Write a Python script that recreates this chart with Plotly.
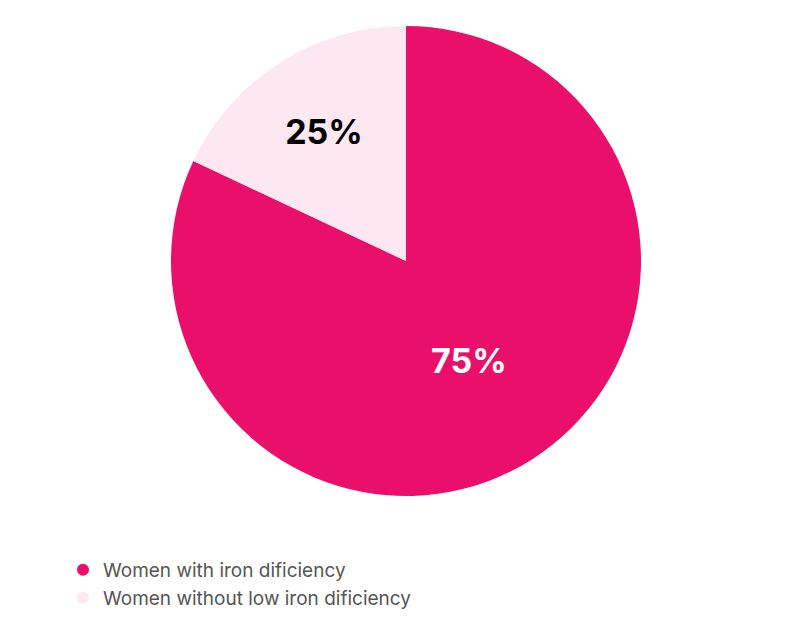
import plotly.graph_objects as go

labels = ["Women with iron dificiency", "Women without low iron dificiency"]
# slice shares as drawn in the picture; printed labels differ
shares = [82, 18]
label_text = ["75%", "25%"]
colors = ["#EA0F6B", "#FDE7F0"]
text_colors = ["white", "black"]

fig = go.Figure()

fig.add_trace(
    go.Pie(
        labels=labels,
        values=shares,
        text=label_text,
        textinfo="text",
        sort=False,
        direction="clockwise",
        marker=dict(colors=colors, line=dict(width=0)),
        textfont=dict(size=34, color=text_colors, family="Inter", weight="bold"),
        insidetextorientation="horizontal",
        showlegend=False,
        hoverinfo="label+text",
        domain=dict(x=[163 / 800, 633 / 800], y=[1 - 488 / 629, 1 - 18 / 629]),
    )
)

# legend entries with round markers
for name, color in zip(labels, colors):
    fig.add_trace(
        go.Scatter(
            x=[None], y=[None], mode="markers", name=name,
            marker=dict(symbol="circle", size=17, color=color),
        )
    )

fig.update_layout(
    width=800,
    height=629,
    margin=dict(l=0, r=0, t=0, b=0),
    paper_bgcolor="white",
    plot_bgcolor="white",
    xaxis=dict(visible=False),
    yaxis=dict(visible=False),
    legend=dict(
        x=55 / 800, y=1 - 543 / 629, xanchor="left", yanchor="top",
        font=dict(size=19, color="#555555", family="Inter"),
        itemsizing="constant", tracegroupgap=8,
    ),
)

fig.write_html("out.html")
